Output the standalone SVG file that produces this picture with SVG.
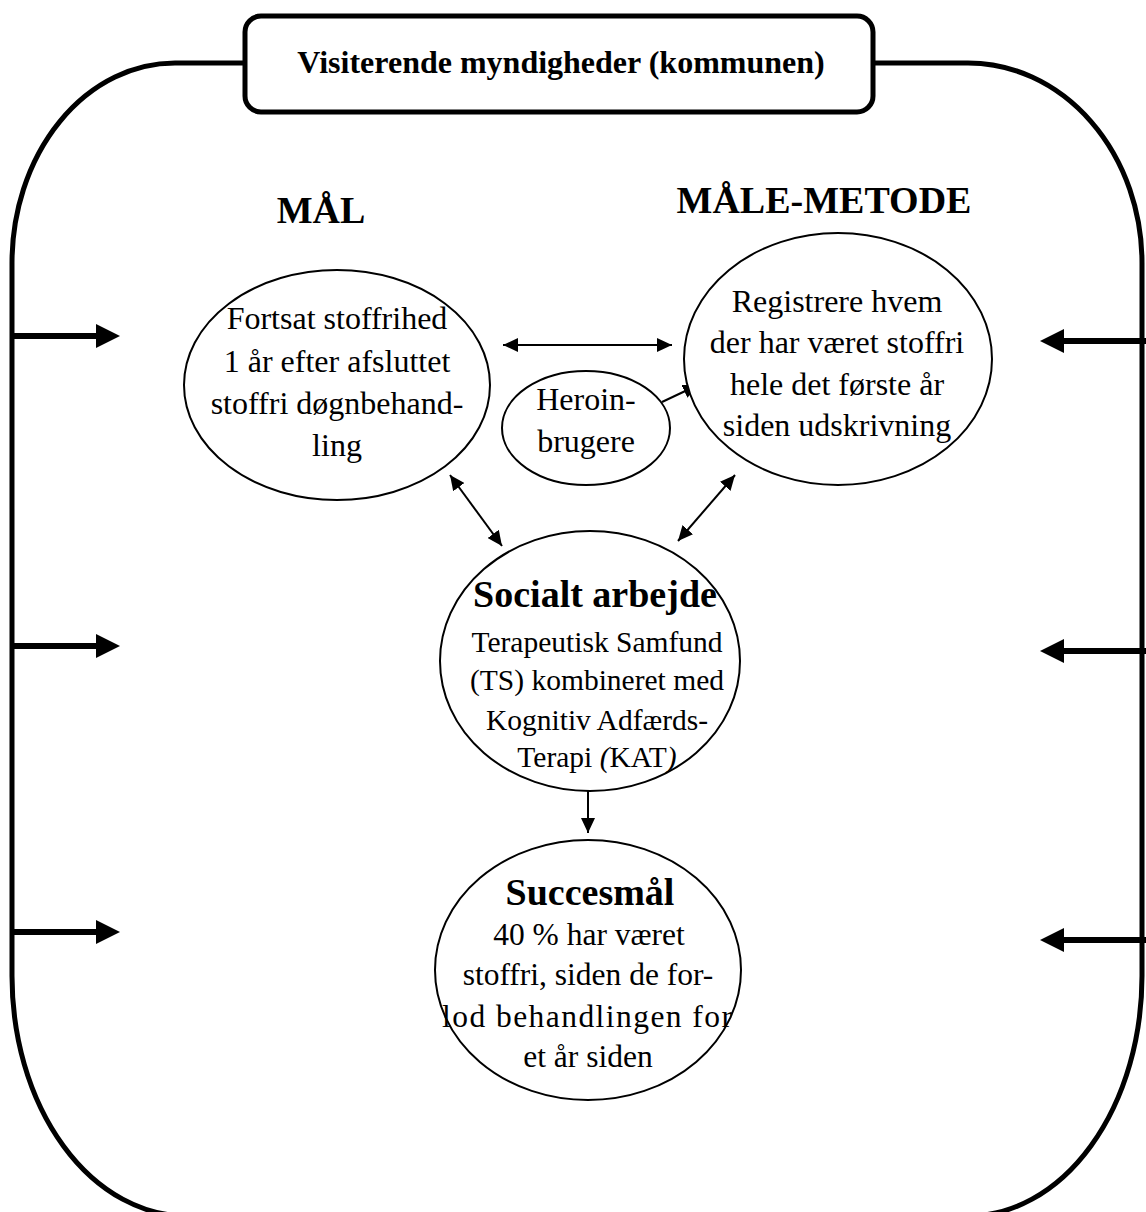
<svg xmlns="http://www.w3.org/2000/svg" width="1146" height="1212" viewBox="0 0 1146 1212">
  <style>
    .frame { fill: none; stroke: #000; stroke-width: 5; }
    .node { fill: #fff; stroke: #000; stroke-width: 2; }
    .thin { stroke: #000; stroke-width: 2; fill: none; }
    .thick { stroke: #000; stroke-width: 6; fill: none; }
    text { font-family: "Liberation Serif", "Times New Roman", serif; fill: #000; text-anchor: middle; }
    .body { font-size: 32px; }
    .small { font-size: 29.5px; }
    .mid { font-size: 31.5px; }
    .head { font-size: 38px; font-weight: bold; }
    .title { font-size: 32px; font-weight: bold; }
  </style>
  <defs>
    <marker id="tip" markerUnits="userSpaceOnUse" markerWidth="15" markerHeight="14" refX="15" refY="7" orient="auto-start-reverse">
      <path d="M0,0 L15,7 L0,14 z" fill="#000"/>
    </marker>
    <marker id="bigtip" markerUnits="userSpaceOnUse" markerWidth="24" markerHeight="24" refX="18" refY="12" orient="auto">
      <path d="M0,0 L24,12 L0,24 z" fill="#000"/>
    </marker>
  </defs>

  <!-- outer boundary with large rounded corners -->
  <path class="frame" d="M175,63 H968 A174,200 0 0 1 1142,263 V976 A174,240 0 0 1 968,1216 H187 A175,240 0 0 1 12,976 V263 A163,200 0 0 1 175,63 Z"/>

  <!-- authority box on top of the boundary -->
  <g id="authority">
    <rect x="245" y="16" width="628" height="96" rx="16" ry="16" fill="#fff" stroke="#000" stroke-width="5"/>
    <text class="title" x="561" y="73">Visiterende myndigheder (kommunen)</text>
  </g>

  <!-- column headings -->
  <g id="heading-goal">
    <text class="head" x="321" y="223">MÅL</text>
  </g>
  <g id="heading-method">
    <text class="head" x="824" y="213">MÅLE-METODE</text>
  </g>

  <!-- connectors -->
  <g id="connectors">
    <line class="thin" x1="503" y1="345" x2="672" y2="345" marker-start="url(#tip)" marker-end="url(#tip)"/>
    <line class="thin" x1="662" y1="402" x2="698" y2="385" marker-end="url(#tip)"/>
    <line class="thin" x1="450" y1="475" x2="502" y2="546" marker-start="url(#tip)" marker-end="url(#tip)"/>
    <line class="thin" x1="735" y1="475" x2="678" y2="541" marker-start="url(#tip)" marker-end="url(#tip)"/>
    <line class="thin" x1="588" y1="790" x2="588" y2="833" marker-end="url(#tip)"/>

    <line class="thick" x1="12" y1="336" x2="114" y2="336" marker-end="url(#bigtip)"/>
    <line class="thick" x1="12" y1="646" x2="114" y2="646" marker-end="url(#bigtip)"/>
    <line class="thick" x1="12" y1="932" x2="114" y2="932" marker-end="url(#bigtip)"/>
    <line class="thick" x1="1146" y1="341" x2="1046" y2="341" marker-end="url(#bigtip)"/>
    <line class="thick" x1="1146" y1="651" x2="1046" y2="651" marker-end="url(#bigtip)"/>
    <line class="thick" x1="1146" y1="940" x2="1046" y2="940" marker-end="url(#bigtip)"/>
  </g>

  <g id="goal">
    <ellipse class="node" cx="337" cy="385" rx="153" ry="115"/>
    <text class="body" x="337" y="329">Fortsat stoffrihed</text>
    <text class="body" x="337" y="372">1 år efter afsluttet</text>
    <text class="body" x="337" y="414">stoffri døgnbehand-</text>
    <text class="body" x="337" y="456">ling</text>
  </g>

  <g id="method">
    <ellipse class="node" cx="838" cy="359" rx="154" ry="126"/>
    <text class="body" x="837" y="312">Registrere hvem</text>
    <text class="body" x="837" y="353">der har været stoffri</text>
    <text class="body" x="837" y="395">hele det første år</text>
    <text class="body" x="837" y="436">siden udskrivning</text>
  </g>

  <g id="heroin-users">
    <ellipse class="node" cx="586" cy="428" rx="84" ry="57"/>
    <text class="body" x="586" y="410">Heroin-</text>
    <text class="body" x="586" y="452">brugere</text>
  </g>

  <g id="social-work">
    <ellipse class="node" cx="590" cy="661" rx="150" ry="130"/>
    <text class="head" x="595" y="607">Socialt arbejde</text>
    <text class="small" x="597" y="652">Terapeutisk Samfund</text>
    <text class="small" x="597" y="690">(TS) kombineret med</text>
    <text class="small" x="597" y="730">Kognitiv Adfærds-</text>
    <text class="small" x="597" y="767">Terapi <tspan font-style="italic">(</tspan>KAT<tspan font-style="italic">)</tspan></text>
  </g>

  <g id="success">
    <ellipse class="node" cx="588" cy="970" rx="153" ry="130"/>
    <text class="head" x="590" y="905">Succesmål</text>
    <text class="mid" x="589" y="945">40 % har været</text>
    <text class="mid" x="588" y="985">stoffri, siden de for-</text>
    <text class="mid" x="587" y="1027" textLength="290" lengthAdjust="spacing">lod behandlingen for</text>
    <text class="mid" x="588" y="1067">et år siden</text>
  </g>
</svg>
